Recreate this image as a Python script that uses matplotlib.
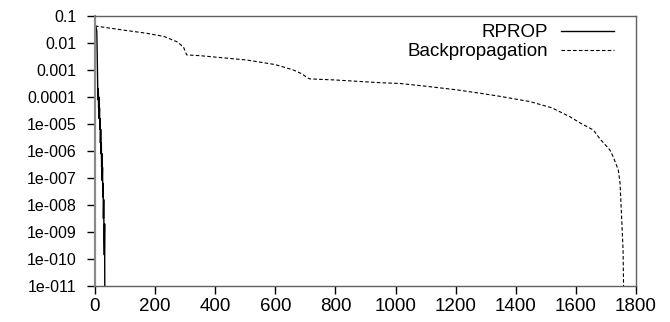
import matplotlib
matplotlib.use('Agg')
import matplotlib.pyplot as plt
import numpy as np
from matplotlib.ticker import FixedLocator, FixedFormatter

plt.rcParams['font.family'] = ['Liberation Sans', 'DejaVu Sans']

# RPROP error per epoch (log10 of the error)
rprop_epoch = list(range(0, 34))
rprop_log_err = [-1.33, -1.34, -1.36, -1.40, -1.45, -1.50, -1.60, -2.2, -2.9, -3.6,
                 -4.1, -3.7, -4.4, -4.0, -4.8, -4.4, -5.2, -4.8, -5.7, -5.2,
                 -6.1, -5.7, -6.6, -6.1, -7.1, -6.6, -7.7, -7.2, -8.5, -7.8,
                 -9.3, -9.85, -8.7, -13.0]

# Backpropagation error per epoch (log10 of the error)
bp_epoch = [0, 50, 100, 172, 230, 272, 294, 300, 305, 350, 505, 600, 660, 690,
            705, 715, 800, 948, 1015, 1100, 1200, 1281, 1350, 1447, 1520, 1580,
            1620, 1658, 1680, 1700, 1713, 1724, 1741, 1747, 1752, 1757, 1761]
bp_log_err = [-1.37, -1.45, -1.53, -1.64, -1.76, -1.95, -2.14, -2.3, -2.44, -2.47,
              -2.63, -2.8, -3.0, -3.15, -3.28, -3.33, -3.37, -3.47, -3.5, -3.6,
              -3.73, -3.86, -3.98, -4.17, -4.4, -4.73, -5.0, -5.22, -5.55, -5.8,
              -5.96, -6.21, -6.7, -7.2, -8.43, -9.67, -13.0]

y_ticks = [1e-1, 1e-2, 1e-3, 1e-4, 1e-5, 1e-6, 1e-7, 1e-8, 1e-9, 1e-10, 1e-11]
y_labels = ['0.1', '0.01', '0.001', '0.0001', '1e-005', '1e-006', '1e-007',
            '1e-008', '1e-009', '1e-010', '1e-011']
x_ticks = [0, 200, 400, 600, 800, 1000, 1200, 1400, 1600, 1800]

fig = plt.figure(figsize=(6.7, 3.22), dpi=100)
ax = fig.add_axes([95 / 670, 1 - 286 / 322, 541 / 670, 270 / 322])

ax.plot(rprop_epoch, 10 ** np.array(rprop_log_err), color='black', lw=1.0,
        label='RPROP')
ax.plot(bp_epoch, 10 ** np.array(bp_log_err), color='black', lw=0.8,
        dashes=(3.2, 2.0), label='Backpropagation')

ax.set_yscale('log')
ax.set_xlim(0, 1800)
ax.set_ylim(1e-11, 1e-1)
ax.yaxis.set_major_locator(FixedLocator(y_ticks))
ax.yaxis.set_major_formatter(FixedFormatter(y_labels))
ax.yaxis.set_minor_locator(FixedLocator([]))
ax.set_xticks(x_ticks)
ax.set_xticklabels([str(v) for v in x_ticks])

ax.tick_params(axis='both', direction='out', length=5.5, width=1.0, color='black')
ax.tick_params(axis='y', pad=8, labelsize=11.5)
ax.tick_params(axis='x', pad=3, labelsize=13.5)
for side in ['top', 'right', 'bottom', 'left']:
    ax.spines[side].set_color('#606060')
    ax.spines[side].set_linewidth(1.0)
ax.spines['left'].set_color('#8a8a8a')
ax.spines['left'].set_linewidth(1.6)

ax.legend(loc='upper right', bbox_to_anchor=(614 / 670, 1 - 24 / 322),
          bbox_transform=fig.transFigure, frameon=False, markerfirst=False,
          fontsize=13.5, handlelength=2.85, handletextpad=0.65, labelspacing=0.1,
          borderpad=0, borderaxespad=0)

fig.savefig('out.png', dpi=100)
